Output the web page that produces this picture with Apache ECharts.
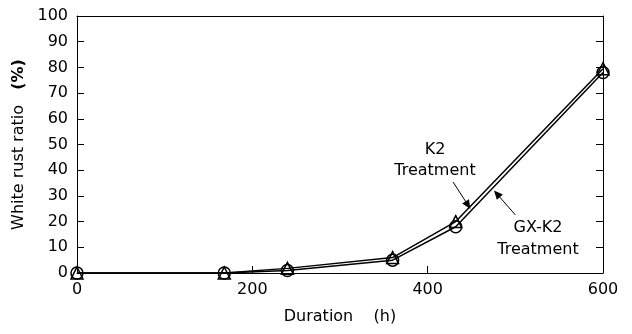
<!DOCTYPE html>
<html>
<head>
<meta charset="utf-8">
<script src="https://cdn.jsdelivr.net/npm/echarts@6/dist/echarts.min.js"></script>
<style>
  html, body { margin: 0; padding: 0; background: #fff; }
  #chart { width: 632px; height: 334px; }
</style>
</head>
<body>
<div id="chart"></div>
<script>
// Exposure duration (h)
const durations = [0, 168, 240, 360, 432, 600];
// White rust ratio (%) per treatment
const gxK2Values = [0, 0, 1, 5, 18, 78];
const k2Values = [0, 0, 1.8, 6, 20, 79.5];

// Arrow annotations, in data units: [tail, head]
const k2Arrow = [[429, 35.4], [446, 26.4]];
const gxK2Arrow = [[500, 22.6], [479, 30.8]];

const FONT = 'DejaVu Sans, sans-serif';
const INK = '#000';

const chart = echarts.init(document.getElementById('chart'), null, { renderer: 'canvas' });

const toPairs = (values) => durations.map((d, i) => [d, values[i]]);

const seriesBase = {
    type: 'line',
    symbolSize: 12,
    clip: false,
    showSymbol: true,
    lineStyle: { color: INK, width: 1.5 },
    itemStyle: { color: 'transparent', borderColor: INK, borderWidth: 1.5 },
    emphasis: { disabled: true },
    animation: false,
    z: 3
};

const option = {
    backgroundColor: '#fff',
    animation: false,
    grid: { left: 77, right: 29, top: 16, bottom: 61 },
    xAxis: [
        {
            type: 'value',
            min: 0,
            max: 600,
            interval: 200,
            name: 'Duration    (h)',
            nameLocation: 'middle',
            nameGap: 36,
            nameTextStyle: { color: INK, fontSize: 16, fontFamily: FONT },
            axisLine: { show: true, lineStyle: { color: INK, width: 1 } },
            axisTick: { show: true, inside: true, length: 7, lineStyle: { color: INK } },
            axisLabel: { color: INK, fontSize: 16, fontFamily: FONT, margin: 9 },
            splitLine: { show: false }
        },
        {
            type: 'value',
            position: 'top',
            min: 0,
            max: 600,
            axisLine: { show: true, onZero: false, lineStyle: { color: INK, width: 1 } },
            axisTick: { show: false },
            axisLabel: { show: false },
            splitLine: { show: false }
        }
    ],
    yAxis: [
        {
            type: 'value',
            min: 0,
            max: 100,
            interval: 10,
            name: 'White rust ratio   {b|(%)}',
            nameLocation: 'middle',
            nameGap: 44,
            nameTextStyle: {
                color: INK,
                fontSize: 16,
                fontFamily: FONT,
                rich: { b: { fontWeight: 'bold', fontSize: 16, fontFamily: FONT, color: INK } }
            },
            axisLine: { show: true, lineStyle: { color: INK, width: 1 } },
            axisTick: { show: true, inside: true, length: 7, lineStyle: { color: INK } },
            axisLabel: { color: INK, fontSize: 16, fontFamily: FONT, margin: 9 },
            splitLine: { show: false }
        },
        {
            type: 'value',
            position: 'right',
            min: 0,
            max: 100,
            interval: 10,
            axisLine: { show: true, onZero: false, lineStyle: { color: INK, width: 1 } },
            axisTick: { show: true, inside: true, length: 7, lineStyle: { color: INK } },
            axisLabel: { show: false },
            splitLine: { show: false }
        }
    ],
    series: [
        Object.assign({}, seriesBase, {
            name: 'GX-K2 Treatment',
            symbol: 'circle',
            data: toPairs(gxK2Values),
            markLine: {
                silent: true,
                symbol: ['none', 'triangle'],
                symbolSize: [8, 9],
                lineStyle: { color: INK, width: 1, type: 'solid' },
                itemStyle: { color: INK },
                label: { show: false },
                emphasis: { disabled: true },
                animation: false,
                data: [
                    [{ coord: k2Arrow[0] }, { coord: k2Arrow[1] }],
                    [{ coord: gxK2Arrow[0] }, { coord: gxK2Arrow[1] }]
                ]
            }
        }),
        Object.assign({}, seriesBase, {
            name: 'K2 Treatment',
            symbol: 'triangle',
            symbolSize: 12,
            data: toPairs(k2Values)
        })
    ],
    graphic: [
        {
            type: 'text',
            x: 435,
            y: 160,
            style: {
                text: 'K2\nTreatment',
                fill: INK,
                font: '16px ' + FONT,
                align: 'center',
                verticalAlign: 'middle',
                lineHeight: 21
            }
        },
        {
            type: 'text',
            x: 538,
            y: 239,
            style: {
                text: 'GX-K2\nTreatment',
                fill: INK,
                font: '16px ' + FONT,
                align: 'center',
                verticalAlign: 'middle',
                lineHeight: 22
            }
        }
    ]
};

chart.setOption(option);
</script>
</body>
</html>
